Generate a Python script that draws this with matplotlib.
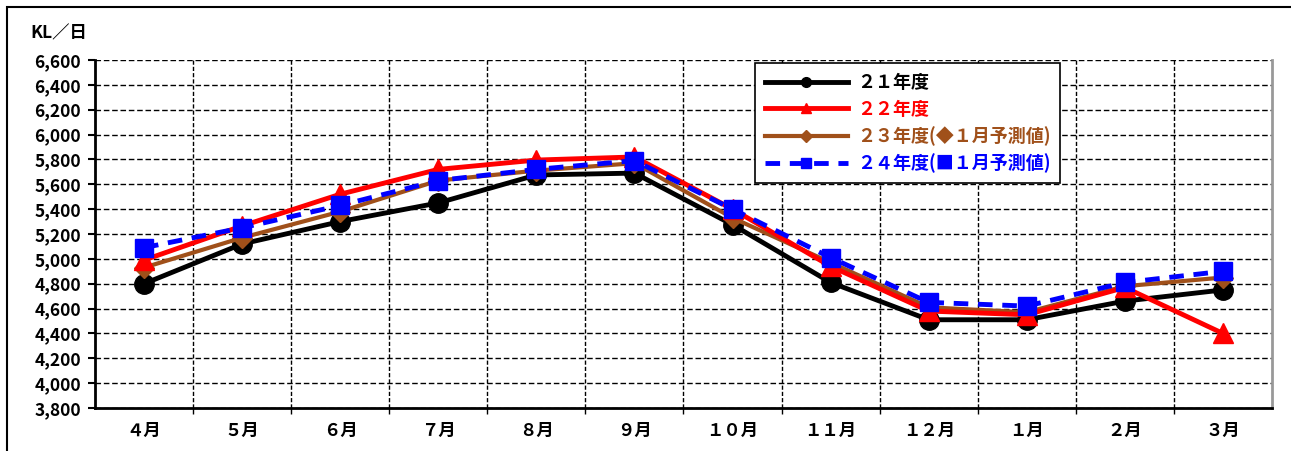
import matplotlib
matplotlib.use('Agg')
import matplotlib.pyplot as plt
from matplotlib.lines import Line2D
from matplotlib.patches import Rectangle

plt.rcParams['font.family'] = ['Noto Sans CJK JP', 'DejaVu Sans']

months = ['４月', '５月', '６月', '７月', '８月', '９月', '１０月', '１１月', '１２月', '１月', '２月', '３月']
fy21 = [4800, 5120, 5300, 5450, 5675, 5690, 5275, 4810, 4510, 4510, 4660, 4750]
fy22 = [4990, 5265, 5520, 5720, 5795, 5820, 5400, 4940, 4580, 4550, 4770, 4400]
fy23 = [4930, 5170, 5380, 5630, 5710, 5770, 5330, 4970, 4610, 4570, 4780, 4850]
fy24 = [5090, 5250, 5430, 5630, 5720, 5790, 5400, 5010, 4650, 4620, 4810, 4900]
labels = ['２１年度', '２２年度', '２３年度(◆１月予測値)', '２４年度(■１月予測値)']
yticks = list(range(3800, 6601, 200))

fig = plt.figure(figsize=(12.91, 4.51), dpi=100)
ax = fig.add_axes([95 / 1291, 1 - 408 / 451, 1177 / 1291, 348 / 451])

x = list(range(len(months)))
ax.plot(x, fy21, color='black', lw=3.5, marker='o', ms=14, zorder=3)
ax.plot(x, fy23, color='#A0501A', lw=3, marker='D', ms=10, zorder=4)
ax.plot(x, fy22, color='#FF0000', lw=3.5, marker='^', ms=14, zorder=5)
ax.plot(x, fy24, color='#0000FF', lw=3.5, ls=(0, (3, 2)), marker='s', ms=13, zorder=6)

ax.set_xlim(-0.5, 11.5)
ax.set_ylim(3800, 6600)
ax.set_yticks(yticks)
ax.set_yticklabels(['{:,}'.format(v) for v in yticks], fontsize=12.5, fontweight='bold')
ax.set_xticks(x)
ax.set_xticklabels(months, fontsize=12.5, fontweight='bold')
ax.tick_params(axis='x', length=0, pad=10)
ax.set_xticks([i + 0.5 for i in range(11)], minor=True)
ax.tick_params(axis='x', which='minor', length=4, direction='out', width=1)
ax.tick_params(axis='y', length=5, width=1.5, direction='out', pad=5)

ax.grid(True, axis='y', color='black', ls=(0, (4, 2)), lw=1)
ax.grid(True, axis='x', which='minor', color='black', ls=(0, (3, 1.5)), lw=1)
ax.set_axisbelow(True)

ax.spines['left'].set_linewidth(2)
ax.spines['bottom'].set_linewidth(2)
ax.spines['right'].set_color('#999999')
ax.spines['right'].set_linewidth(2)
ax.spines['top'].set_visible(False)

fig.text(30 / 1291, 1 - 33 / 451, 'KL／日', fontsize=12.5, fontweight='bold', va='center')

handles = [
    Line2D([], [], color='black', lw=3.5, marker='o', ms=7),
    Line2D([], [], color='#FF0000', lw=3.5, marker='^', ms=7),
    Line2D([], [], color='#A0501A', lw=3, marker='D', ms=6),
    Line2D([], [], color='#0000FF', lw=3.5, ls=(0, (3, 2)), marker='s', ms=7),
]
leg = ax.legend(handles, labels, loc='upper left', bbox_to_anchor=(755 / 1291, 1 - 63 / 451),
                bbox_transform=fig.transFigure, fancybox=False, framealpha=1, edgecolor='black',
                handlelength=4.6, handletextpad=0.5, fontsize=13, labelspacing=0.42,
                borderpad=0.55, borderaxespad=0)
leg.get_frame().set_linewidth(1.2)
for t, c in zip(leg.get_texts(), ['black', '#FF0000', '#A0501A', '#0000FF']):
    t.set_color(c)
    t.set_fontweight('bold')

fig.patches.append(Rectangle((7 / 1291, -0.1), 1.2, 1.1 - 7 / 451, transform=fig.transFigure,
                             fill=False, edgecolor='black', lw=1.5))

fig.savefig('out.png', dpi=100)
